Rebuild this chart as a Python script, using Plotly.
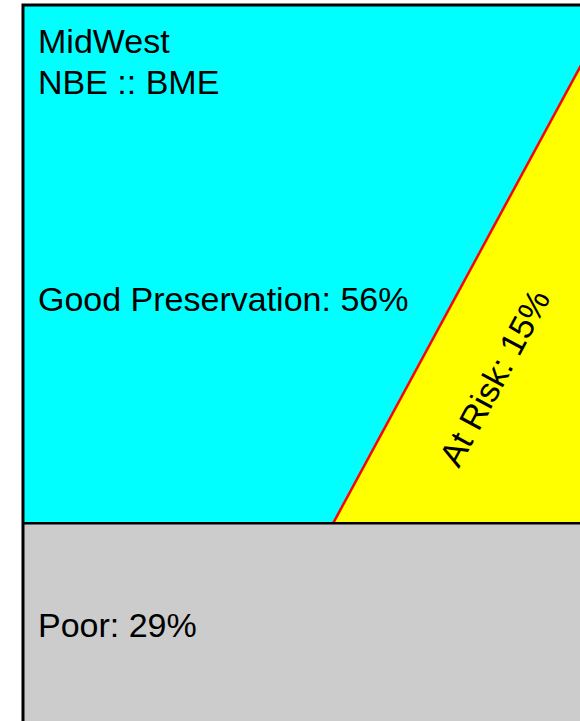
import plotly.graph_objects as go

# Shares of the region (percent)
region = "MidWest"
subtitle = "NBE :: BME"
categories = ["Good Preservation", "At Risk", "Poor"]
shares = [56, 15, 29]

# At Risk drawn as a right triangle in the corner of the upper band;
# its base width (fraction of box width) sets the shape, area = share
at_risk_base = 0.456

good, at_risk, poor = [s / 100 for s in shares]
split = poor                         # poor band sits at the bottom
tri_h = 2 * at_risk / at_risk_base   # triangle height from its area
tri_x0 = 1 - at_risk_base

fig = go.Figure()

# upper band (good preservation)
fig.add_trace(go.Scatter(x=[0, 1, 1, 0, 0], y=[split, split, 1, 1, split],
                         fill="toself", fillcolor="#00ffff", mode="none",
                         hoverinfo="skip"))
# lower band (poor)
fig.add_trace(go.Scatter(x=[0, 1, 1, 0, 0], y=[0, 0, split, split, 0],
                         fill="toself", fillcolor="#cccccc", mode="none",
                         hoverinfo="skip"))
# at risk triangle
fig.add_trace(go.Scatter(x=[tri_x0, 1, 1, tri_x0], y=[split, split, split + tri_h, split],
                         fill="toself", fillcolor="#ffff00", mode="none",
                         hoverinfo="skip"))
# red edge of the triangle
fig.add_trace(go.Scatter(x=[tri_x0, 1], y=[split, split + tri_h], mode="lines",
                         line=dict(color="#ff0000", width=2.5), hoverinfo="skip"))
# divider between bands
fig.add_trace(go.Scatter(x=[0, 1], y=[split, split], mode="lines",
                         line=dict(color="black", width=2.5), hoverinfo="skip"))
# outer box
fig.add_trace(go.Scatter(x=[0, 1, 1, 0, 0], y=[0, 0, 1, 1, 0], mode="lines",
                         line=dict(color="black", width=3), hoverinfo="skip"))

font = dict(family="Liberation Sans, Arial, Helvetica, sans-serif", size=34, color="black")
notes = [
    (0.0228, 0.9507, region),
    (0.0228, 0.8945, subtitle),
    (0.0228, 0.5966, f"{categories[0]}: {shares[0]}%"),
    (0.0228, 0.1507, f"{categories[2]}: {shares[2]}%"),
]
for x, y, t in notes:
    fig.add_annotation(x=x, y=y, text=t, showarrow=False, xanchor="left",
                       yanchor="middle", font=font)
fig.add_annotation(x=0.8280, y=0.490, text=f"{categories[1]}: {shares[1]}%",
                   showarrow=False, textangle=-61.6, font=font)

fig.update_layout(
    width=580, height=721,
    margin=dict(l=0, r=0, t=0, b=0),
    paper_bgcolor="white", plot_bgcolor="white",
    showlegend=False,
    xaxis=dict(range=[-23 / 570, 557 / 570], visible=False, fixedrange=True),
    yaxis=dict(range=[14 / 730, 735 / 730], visible=False, fixedrange=True),
)

fig.write_html("out.html", config={"displayModeBar": False},
               post_script="document.body.style.margin='0';document.body.style.overflow='hidden';")
